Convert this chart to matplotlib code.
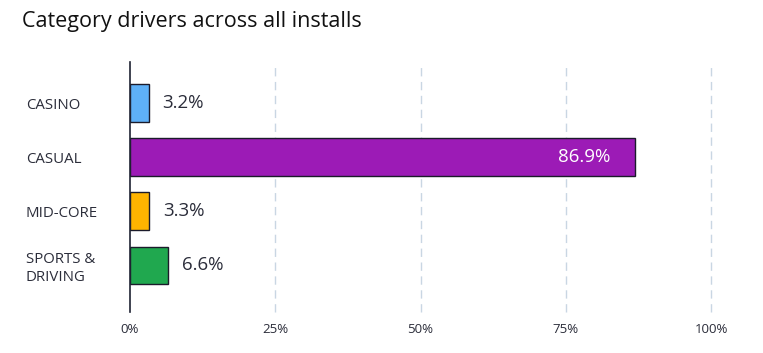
import numpy as np
import matplotlib.pyplot as plt

plt.rcParams['font.family'] = ['Open Sans', 'DejaVu Sans']

# data
categories = ["CASINO", "CASUAL", "MID-CORE", "SPORTS &\nDRIVING"]
shares = [3.2, 86.9, 3.3, 6.6]
colors = ["#5eb0f7", "#9c1bb6", "#ffb400", "#20a84f"]
ticks = [0, 25, 50, 75, 100]

text_col = "#2b2d3a"

fig = plt.figure(figsize=(7.63, 3.53), dpi=100)
ax = fig.add_axes([130 / 763, 1 - 312 / 353, 581 / 763, 250 / 353])

y = np.arange(len(categories))
ax.barh(y, shares, height=0.7, color=colors, edgecolor="#1b1b2b", linewidth=1, zorder=3)

for yi, v in zip(y, shares):
    if v > 50:
        ax.text(v - 4.3, yi, f"{v}%", ha="right", va="center", color="white", fontsize=13.5)
    else:
        ax.text(v + 2.4, yi, f"{v}%", ha="left", va="center", color=text_col, fontsize=13.5)

ax.set_xlim(0, 100)
ax.set_ylim(3.86, -0.76)
ax.set_xticks(ticks)
ax.set_xticklabels([f"{t}%" for t in ticks], fontsize=9.5, color=text_col)
ax.set_yticks(y)
ax.set_yticklabels(categories, fontsize=10.8, color=text_col, ha="left", linespacing=1.25)
ax.tick_params(axis="y", length=0, pad=75)
ax.tick_params(axis="x", length=0, pad=8)

for t in ticks[1:]:
    ax.axvline(t, color="#c9d6e3", linestyle=(0, (6, 4)), linewidth=1, zorder=1, clip_on=False)

for s in ["top", "right", "bottom"]:
    ax.spines[s].set_visible(False)
ax.spines["left"].set_color("#1f2333")
ax.spines["left"].set_linewidth(1.2)
ax.spines["left"].set_zorder(4)

fig.text(22 / 763, 1 - 22 / 353, "Category drivers across all installs", fontsize=15.5,
         color="#111111", ha="left", va="center", fontweight="medium")

fig.savefig("out.png", dpi=100)
